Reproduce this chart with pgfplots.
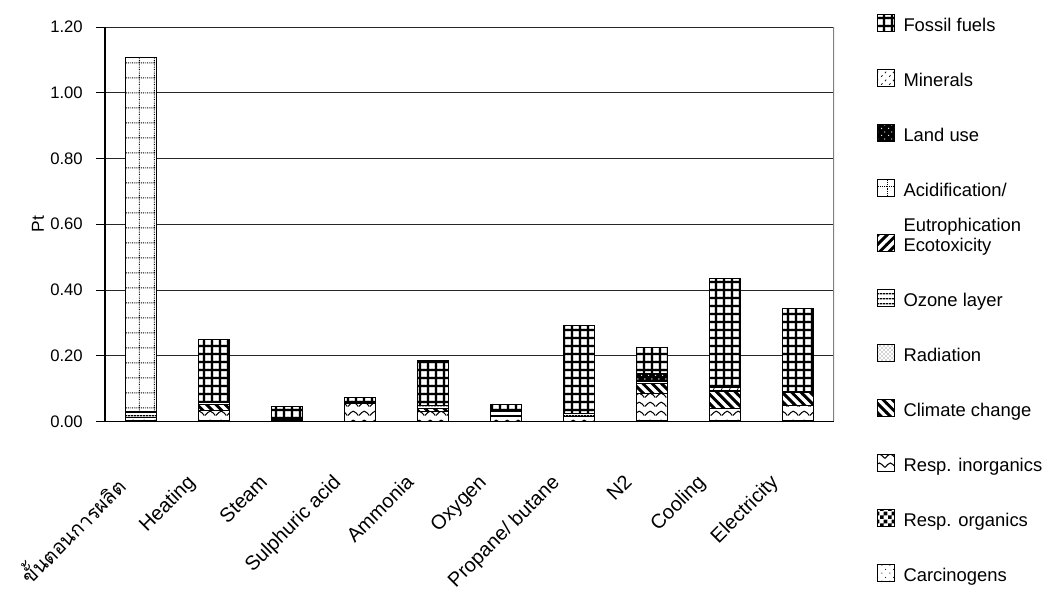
\documentclass[border=0pt]{standalone}
\usepackage{fontspec}
\setmainfont{Liberation Sans}
\newfontfamily\thaifont[Script=Thai]{Loma}
\usepackage{pgfplots}
\usepackage{pgfplotstable}
\pgfplotsset{compat=1.18}
\usetikzlibrary{patterns}

% ---------- patterns ----------
\pgfdeclarepatternformonly{fossilgrid}{\pgfqpoint{-0.5pt}{-0.5pt}}{\pgfqpoint{6.5pt}{6.5pt}}{\pgfqpoint{6pt}{6pt}}{%
  \pgfpathrectangle{\pgfqpoint{-0.5pt}{2.1pt}}{\pgfqpoint{7pt}{1.8pt}}%
  \pgfpathrectangle{\pgfqpoint{2.1pt}{-0.5pt}}{\pgfqpoint{1.8pt}{7pt}}%
  \pgfusepath{fill}}
\pgfdeclarepatternformonly{acidgrid}{\pgfqpoint{0pt}{0pt}}{\pgfqpoint{11pt}{11pt}}{\pgfqpoint{11pt}{11pt}}{%
  \pgfsetlinewidth{0.7pt}\pgfsetdash{{0.65pt}{0.725pt}}{0pt}%
  \pgfpathmoveto{\pgfqpoint{0pt}{5.5pt}}\pgfpathlineto{\pgfqpoint{11pt}{5.5pt}}%
  \pgfpathmoveto{\pgfqpoint{5.5pt}{0pt}}\pgfpathlineto{\pgfqpoint{5.5pt}{11pt}}%
  \pgfusepath{stroke}}
\pgfdeclarepatternformonly{inorgwave}{\pgfqpoint{0pt}{0pt}}{\pgfqpoint{8pt}{6.5pt}}{\pgfqpoint{8pt}{6.5pt}}{%
  \pgfsetlinewidth{0.8pt}%
  \pgfpathmoveto{\pgfqpoint{0pt}{1.2pt}}%
  \pgfpathcurveto{\pgfqpoint{1.5pt}{2.5pt}}{\pgfqpoint{2.5pt}{4.5pt}}{\pgfqpoint{4pt}{4.5pt}}%
  \pgfpathcurveto{\pgfqpoint{5.5pt}{4.5pt}}{\pgfqpoint{6.5pt}{2.5pt}}{\pgfqpoint{8pt}{1.2pt}}%
  \pgfusepath{stroke}}
\pgfdeclarepatternformonly{climstripes}{\pgfqpoint{-1pt}{-1pt}}{\pgfqpoint{8pt}{8pt}}{\pgfqpoint{7pt}{7pt}}{%
  \pgfsetlinewidth{2.2pt}%
  \pgfpathmoveto{\pgfqpoint{-0.2pt}{7.2pt}}\pgfpathlineto{\pgfqpoint{7.2pt}{-0.2pt}}%
  \pgfusepath{stroke}}
\pgfdeclarepatternformonly{ecostripes}{\pgfqpoint{-1pt}{-1pt}}{\pgfqpoint{8pt}{8pt}}{\pgfqpoint{7pt}{7pt}}{%
  \pgfsetlinewidth{2.2pt}%
  \pgfpathmoveto{\pgfqpoint{-0.2pt}{-0.2pt}}\pgfpathlineto{\pgfqpoint{7.2pt}{7.2pt}}%
  \pgfusepath{stroke}}
\pgfdeclarepatternformonly{ozonelines}{\pgfqpoint{0pt}{0pt}}{\pgfqpoint{2pt}{3.5pt}}{\pgfqpoint{2pt}{3.5pt}}{%
  \pgfsetlinewidth{0.9pt}%
  \pgfpathmoveto{\pgfqpoint{0pt}{1.75pt}}\pgfpathlineto{\pgfqpoint{2pt}{1.75pt}}%
  \pgfusepath{stroke}}
\pgfdeclarepatternformonly{sparsedots}{\pgfqpoint{0pt}{0pt}}{\pgfqpoint{5pt}{5pt}}{\pgfqpoint{5pt}{5pt}}{%
  \pgfpathcircle{\pgfqpoint{1.25pt}{1.25pt}}{0.5pt}%
  \pgfpathcircle{\pgfqpoint{3.75pt}{3.75pt}}{0.5pt}%
  \pgfusepath{fill}}
\pgfdeclarepatternformonly{mineralstrokes}{\pgfqpoint{0pt}{0pt}}{\pgfqpoint{6pt}{6pt}}{\pgfqpoint{6pt}{6pt}}{%
  \pgfsetlinewidth{0.6pt}%
  \pgfpathmoveto{\pgfqpoint{1pt}{1pt}}\pgfpathlineto{\pgfqpoint{2pt}{2.2pt}}%
  \pgfpathmoveto{\pgfqpoint{4pt}{4pt}}\pgfpathlineto{\pgfqpoint{5pt}{5.2pt}}%
  \pgfusepath{stroke}}
\pgfdeclarepatternformonly{checker}{\pgfqpoint{0pt}{0pt}}{\pgfqpoint{6pt}{6pt}}{\pgfqpoint{6pt}{6pt}}{%
  \pgfpathrectangle{\pgfqpoint{0pt}{0pt}}{\pgfqpoint{3pt}{3pt}}%
  \pgfpathrectangle{\pgfqpoint{3pt}{3pt}}{\pgfqpoint{3pt}{3pt}}%
  \pgfusepath{fill}}
\pgfdeclarepatternformonly{carcdots}{\pgfqpoint{0pt}{0pt}}{\pgfqpoint{6pt}{6pt}}{\pgfqpoint{6pt}{6pt}}{%
  \pgfpathcircle{\pgfqpoint{1.5pt}{1.5pt}}{0.45pt}%
  \pgfpathcircle{\pgfqpoint{4.5pt}{4.5pt}}{0.45pt}%
  \pgfusepath{fill}}

\pgfplotstableread{
x carc rorg rinorg clim rad ozone ecotox acid land miner fossil
0 0.003 0 0.008 0 0 0.015 0.004 1.078 0 0 0
1 0.002 0 0.030 0.020 0 0.006 0 0 0 0 0.192
2 0 0 0.002 0 0 0.003 0 0 0 0 0.040
3 0 0 0.055 0 0 0.004 0 0 0 0 0.014
4 0 0 0.030 0.008 0 0.010 0 0 0 0 0.136
5 0 0 0.015 0.004 0 0.012 0 0 0 0 0.022
6 0 0 0.015 0 0 0.010 0 0 0 0 0.267
7 0.002 0 0.083 0.030 0 0.008 0 0 0.022 0 0.080
8 0.004 0 0.036 0.050 0 0.005 0 0 0 0.008 0.332
9 0.004 0 0.046 0.037 0 0.005 0 0 0 0 0.251
}\datatable

\pgfplotsset{
  barbase/.style={draw=black, line width=0.75pt, preaction={fill=white},
    legend image code/.code={\draw[##1, line width=0.6pt] (0pt,-5pt) rectangle (12.5pt,7.5pt);}},
}

\begin{document}
\begin{tikzpicture}
\useasboundingbox (0,0) rectangle (786pt,442.5pt);
\begin{axis}[
  at={(78.75pt,126.4pt)}, anchor=south west,
  scale only axis, width=546.75pt, height=295.9pt,
  ybar stacked, bar width=23.25pt,
  xmin=-0.5, xmax=9.5, ymin=0, ymax=1.2,
  axis x line*=bottom, axis y line*=left,
  axis line style={line width=0.8pt, black},
  xtick=data,
  xticklabels={{\thaifont ขั้นตอนการผลิต},Heating,Steam,Sulphuric acid,Ammonia,Oxygen,Propane/ butane,N2,Cooling,Electricity},
  xtick style={draw=none},
  xticklabel style={font=\fontsize{15}{17}\selectfont, inner sep=0pt, xshift=-21.5pt, yshift=-32pt, rotate=45, anchor=north east},
  ytick={0,0.2,0.4,0.6,0.8,1.0,1.2},
  ytick pos=left, tick align=outside, major tick length=6.75pt,
  ytick style={black, line width=0.6pt},
  yticklabel style={font=\fontsize{12.5}{14}\selectfont, anchor=east, inner sep=0pt, xshift=-9.75pt,
    /pgf/number format/.cd, fixed, fixed zerofill, precision=2, assume math mode=true},
  ymajorgrids, grid style={black!85, line width=0.6pt},
  ylabel={Pt},
  every axis y label/.style={at={(axis description cs:-0.092,0.5)}, rotate=90, anchor=center, font=\fontsize{13}{15}\selectfont},
  reverse legend,
  legend cell align=left,
  legend style={at={(1.059,1.0353)}, anchor=north west, draw=none, fill=none, inner sep=0pt, outer sep=0pt,
    row sep=24.25pt, font=\fontsize{13.8}{15}\selectfont,
    nodes={inner sep=0pt, text height=14pt, text depth=3pt},
    /tikz/every odd column/.append style={column sep=6.75pt}},
]
\addplot[barbase, pattern=carcdots] table[x=x, y=carc] {\datatable};
\addplot[barbase, pattern=checker] table[x=x, y=rorg] {\datatable};
\addplot[barbase, pattern=inorgwave] table[x=x, y=rinorg] {\datatable};
\addplot[barbase, pattern=climstripes] table[x=x, y=clim] {\datatable};
\addplot[barbase, pattern=crosshatch dots, pattern color=black!70] table[x=x, y=rad] {\datatable};
\addplot[barbase, pattern=ozonelines] table[x=x, y=ozone] {\datatable};
\addplot[barbase, pattern=ecostripes] table[x=x, y=ecotox] {\datatable};
\addplot[barbase, pattern=acidgrid] table[x=x, y=acid] {\datatable};
\addplot[barbase, preaction={fill=black}, pattern=sparsedots, pattern color=white] table[x=x, y=land] {\datatable};
\addplot[barbase, pattern=mineralstrokes] table[x=x, y=miner] {\datatable};
\addplot[barbase, pattern=fossilgrid] table[x=x, y=fossil] {\datatable};
\legend{Carcinogens, Resp. organics, Resp. inorganics, Climate change, Radiation, Ozone layer,
  {\makebox[0pt][l]{\raisebox{15pt}[0pt][0pt]{Eutrophication}}Ecotoxicity}, Acidification/, Land use, Minerals, Fossil fuels}
\draw[black!50, line width=0.8pt] (rel axis cs:1,0) -- (rel axis cs:1,1);
\end{axis}
\end{tikzpicture}
\end{document}
